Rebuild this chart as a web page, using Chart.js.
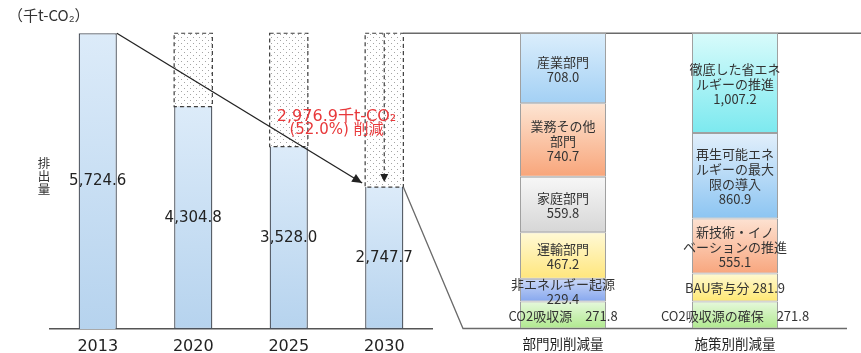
<!DOCTYPE html>
<html lang="ja">
<head>
<meta charset="utf-8">
<script src="https://cdn.jsdelivr.net/npm/chart.js@4.4.0/dist/chart.umd.min.js"></script>
<style>
  html, body { margin: 0; padding: 0; background: #fff; }
  #wrap { position: relative; width: 861px; height: 353px; }
  #wrap canvas { position: absolute; left: 0; top: 0; }
</style>
</head>
<body>
<div id="wrap">
  <canvas id="trendChart" width="861" height="353"></canvas>
  <canvas id="breakdownChart" width="861" height="353"></canvas>
</div>
<script>
// 年度別の排出量（千t-CO2）
const years = ['2013', '2020', '2025', '2030'];
const emissions = [5724.6, 4304.8, 3528.0, 2747.7];

// 2030年度の削減量の内訳（下から積み上げ）
const breakdownLabels = ['部門別削減量', '施策別削減量'];

const sectorNames = [['CO2吸収源　'], ['非エネルギー起源'], ['運輸部門'], ['家庭部門'], ['業務その他', '部門'], ['産業部門']];
const sectorValues = [271.8, 229.4, 467.2, 559.8, 740.7, 708.0];
const sectorInline = [true, false, false, false, false, false];
const sectorColors = [
    ['#e6f8dc', '#b0e98e'],
    ['#cbd8f7', '#86a7ee'],
    ['#fff9d6', '#ffe67c'],
    ['#f7f7f7', '#d6d6d6'],
    ['#fde5d3', '#f8a57a'],
    ['#dbeefc', '#a3d0f4']
];

const measureNames = [['CO2吸収源の確保　'], ['BAU寄与分 '], ['新技術・イノ', 'ベーションの推進'], ['再生可能エネ', 'ルギーの最大', '限の導入'], ['徹底した省エネ', 'ルギーの推進']];
const measureValues = [271.8, 281.9, 555.1, 860.9, 1007.2];
const measureInline = [true, true, false, false, false];
const measureColors = [
    ['#e6f8dc', '#b0e98e'],
    ['#fff9d2', '#ffe872'],
    ['#fde2d2', '#f8a67e'],
    ['#e2effb', '#8cc5f2'],
    ['#d8fbfb', '#7ce9ef']
];

const NUM_FONT = '"DejaVu Sans", "Noto Sans CJK JP", sans-serif';
const JP_FONT = '"Noto Sans CJK JP", sans-serif';

function fmt(v) {
    return v.toLocaleString('en-US', { minimumFractionDigits: 1, maximumFractionDigits: 1 });
}

// vertical gradient between two values of the y scale
function vGradient(chart, v0, v1, top, bottom) {
    const y = chart.scales.y;
    if (!y || !chart.chartArea) return bottom;
    const g = chart.ctx.createLinearGradient(0, y.getPixelForValue(v1), 0, y.getPixelForValue(v0));
    g.addColorStop(0, top);
    g.addColorStop(1, bottom);
    return g;
}

// dotted fill for the reduced part
function makeDots() {
    const c = document.createElement('canvas');
    c.width = 6;
    c.height = 6;
    const g = c.getContext('2d');
    g.fillStyle = '#ffffff';
    g.fillRect(0, 0, 6, 6);
    g.fillStyle = '#a4a4a4';
    g.fillRect(1, 1, 1, 1);
    g.fillRect(4, 4, 1, 1);
    return g.createPattern(c, 'repeat');
}

function arrowHead(ctx, x, y, angle, len, half) {
    ctx.save();
    ctx.translate(x, y);
    ctx.rotate(angle);
    ctx.beginPath();
    ctx.moveTo(0, 0);
    ctx.lineTo(-len, -half);
    ctx.lineTo(-len, half);
    ctx.closePath();
    ctx.fill();
    ctx.restore();
}

const baseYear = emissions[0];
const gaps = emissions.map((v, i) => i === 0 ? null : baseYear - v);
const reduction = baseYear - emissions[emissions.length - 1];

// decorations for the yearly chart
const trendDecor = {
    id: 'trendDecor',
    afterDatasetsDraw(chart) {
        const ctx = chart.ctx;
        const y = chart.scales.y;
        const solid = chart.getDatasetMeta(0).data;
        const dotted = chart.getDatasetMeta(1).data;
        const last = emissions.length - 1;

        ctx.save();

        // dashed outline of the reduced part
        ctx.strokeStyle = '#3c3c3c';
        ctx.lineWidth = 1.2;
        ctx.setLineDash([4, 3]);
        dotted.forEach((el, i) => {
            if (gaps[i] == null) return;
            const l = el.x - el.width / 2;
            ctx.strokeRect(l, el.y, el.width, el.base - el.y);
        });

        // dashed arrow inside the 2030 bar
        const e30 = dotted[last];
        const tip30 = solid[last].y - 5;
        ctx.beginPath();
        ctx.moveTo(e30.x, e30.y);
        ctx.lineTo(e30.x, tip30 - 7);
        ctx.stroke();
        ctx.setLineDash([]);
        ctx.fillStyle = '#222';
        arrowHead(ctx, e30.x, tip30, Math.PI / 2, 8, 4);

        // callout line running right from the top of 2030
        ctx.strokeStyle = '#6a6a6a';
        ctx.lineWidth = 1.3;
        ctx.beginPath();
        ctx.moveTo(e30.x + e30.width / 2, e30.y);
        ctx.lineTo(chart.width, e30.y);
        ctx.stroke();

        // arrow from 2013 down to 2030
        const s13 = solid[0];
        const s30 = solid[last];
        const x0 = s13.x + s13.width / 2, y0 = s13.y;
        const x1 = s30.x - s30.width / 2 - 3, y1 = s30.y - 4;
        ctx.strokeStyle = '#222';
        ctx.lineWidth = 1.3;
        ctx.beginPath();
        ctx.moveTo(x0, y0);
        ctx.lineTo(x1, y1);
        ctx.stroke();
        arrowHead(ctx, x1, y1, Math.atan2(y1 - y0, x1 - x0), 10, 4.5);

        // values inside the bars
        ctx.fillStyle = '#222';
        ctx.font = '15px ' + NUM_FONT;
        ctx.textAlign = 'center';
        ctx.textBaseline = 'middle';
        solid.forEach((el, i) => {
            ctx.fillText(fmt(emissions[i]), el.x, (el.y + el.base) / 2);
        });

        // reduction label
        const cx = (solid[last - 1].x + solid[last].x) / 2;
        const cy = y.getPixelForValue((baseYear + emissions[last]) / 2);
        ctx.fillStyle = '#e8383a';
        ctx.font = '16px ' + NUM_FONT;
        ctx.fillText(fmt(reduction) + '千t-CO₂', cx, cy + 7);
        ctx.font = '15px ' + NUM_FONT;
        ctx.fillText('(' + (reduction / baseYear * 100).toFixed(1) + '%) 削減', cx, cy + 20);

        // unit and axis title
        ctx.fillStyle = '#333';
        ctx.font = '15px ' + JP_FONT;
        ctx.textAlign = 'left';
        ctx.fillText('（千t-CO₂）', 8, 15);
        ctx.font = '12.5px ' + JP_FONT;
        ctx.textAlign = 'center';
        ['排', '出', '量'].forEach((ch, k) => ctx.fillText(ch, 44, 163 + k * 13));

        ctx.restore();
    }
};

const dots = makeDots();

const trendChart = new Chart(document.getElementById('trendChart'), {
    type: 'bar',
    data: {
        labels: years,
        datasets: [
            {
                label: '排出量',
                data: emissions,
                backgroundColor: c => vGradient(c.chart, 0, emissions[c.dataIndex], '#dcebf9', '#b6d3ee'),
                borderColor: '#4b525c',
                borderWidth: 1.3,
                borderSkipped: c => c.dataIndex === 0 ? 'start' : 'end'
            },
            {
                label: '削減量',
                data: gaps,
                backgroundColor: dots,
                borderWidth: 0
            }
        ]
    },
    options: {
        responsive: false,
        animation: false,
        layout: { padding: { left: 50, right: 429, top: 19, bottom: -12 } },
        plugins: { legend: { display: false }, tooltip: { enabled: false } },
        datasets: { bar: { categoryPercentage: 1, barPercentage: 0.4 } },
        scales: {
            x: {
                stacked: true,
                grid: { display: false, drawTicks: false },
                border: { color: '#555', width: 1.5 },
                ticks: { padding: 10, color: '#222', font: { family: NUM_FONT, size: 16, lineHeight: 1 } }
            },
            y: { stacked: true, display: false, min: 0, max: 6000 }
        }
    },
    plugins: [trendDecor]
});

function segmentDatasets(names, values, colors, inline, col) {
    return values.map((v, i) => {
        const start = values.slice(0, i).reduce((a, b) => a + b, 0);
        return {
            label: names[i].join(''),
            data: breakdownLabels.map((_, j) => j === col ? v : null),
            names: names[i],
            inline: inline[i],
            backgroundColor: c => vGradient(c.chart, start, start + v, colors[i][0], colors[i][1]),
            borderColor: '#a0a0a0',
            borderWidth: 1,
            borderSkipped: false
        };
    });
}

const breakdownTotal = sectorValues.reduce((a, b) => a + b, 0);

// connecting lines and segment labels for the breakdown chart
const breakdownDecor = {
    id: 'breakdownDecor',
    beforeDatasetsDraw(chart) {
        const ctx = chart.ctx;
        const area = chart.chartArea;
        const s30 = trendChart.getDatasetMeta(0).data[emissions.length - 1];
        const startX = area.left - 14;
        ctx.save();
        ctx.strokeStyle = '#6a6a6a';
        ctx.lineWidth = 1.3;
        ctx.beginPath();
        ctx.moveTo(s30.x + s30.width / 2, s30.y);
        ctx.lineTo(startX, area.bottom);
        ctx.lineTo(area.right + 26, area.bottom);
        ctx.stroke();
        ctx.restore();
    },
    afterDatasetsDraw(chart) {
        const ctx = chart.ctx;
        ctx.save();
        ctx.fillStyle = '#333';
        ctx.font = '13px ' + JP_FONT;
        ctx.textAlign = 'center';
        ctx.textBaseline = 'middle';
        chart.data.datasets.forEach((ds, di) => {
            const meta = chart.getDatasetMeta(di);
            ds.data.forEach((v, i) => {
                if (v == null) return;
                const el = meta.data[i];
                const lines = ds.names.slice();
                if (ds.inline) lines[lines.length - 1] += fmt(v);
                else lines.push(fmt(v));
                const lh = 15;
                const mid = (el.y + el.base) / 2 + 1;
                lines.forEach((t, k) => {
                    ctx.fillText(t, el.x, mid + (k - (lines.length - 1) / 2) * lh);
                });
            });
        });
        ctx.restore();
    }
};

new Chart(document.getElementById('breakdownChart'), {
    type: 'bar',
    data: {
        labels: breakdownLabels,
        datasets: [
            ...segmentDatasets(sectorNames, sectorValues, sectorColors, sectorInline, 0),
            ...segmentDatasets(measureNames, measureValues, measureColors, measureInline, 1)
        ]
    },
    options: {
        responsive: false,
        animation: false,
        layout: { padding: { left: 477, right: 40, top: 33, bottom: -7 } },
        plugins: { legend: { display: false }, tooltip: { enabled: false } },
        datasets: { bar: { categoryPercentage: 1, barPercentage: 0.5 } },
        scales: {
            x: {
                stacked: true,
                grid: { display: false, drawTicks: false },
                border: { display: false },
                ticks: { padding: 9, color: '#222', font: { family: JP_FONT, size: 13.5, lineHeight: 1 } }
            },
            y: { stacked: true, display: false, min: 0, max: breakdownTotal }
        }
    },
    plugins: [breakdownDecor]
});
</script>
</body>
</html>
